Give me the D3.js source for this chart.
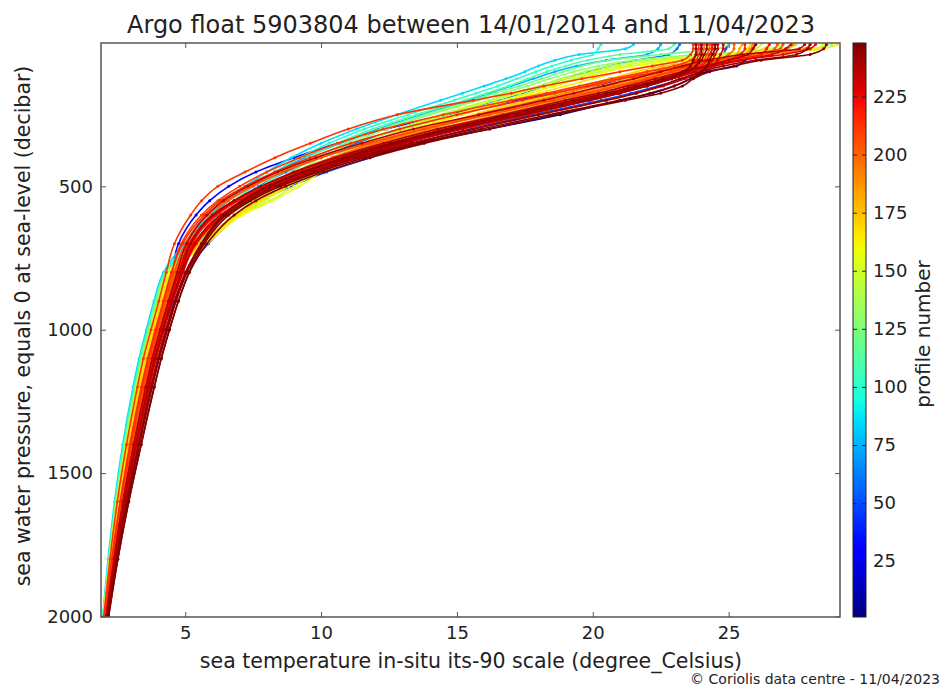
<!DOCTYPE html>
<html>
<head>
<meta charset="utf-8">
<script src="https://cdn.jsdelivr.net/npm/d3@7"></script>
<style>
  body { margin: 0; background: #fff; }
  svg { display: block; font-family: "DejaVu Sans", sans-serif; }
</style>
</head>
<body>
<svg id="chart" width="942" height="688"></svg>
<script>
// pressure levels sampled by the float (decibar)
const pressure = [5, 20, 40, 60, 80, 100, 125, 150, 175, 200, 250, 300, 350, 400, 450,
  500, 550, 600, 700, 800, 900, 1000, 1100, 1200, 1400, 1600, 1800, 2000]

// temperatures, one array per drawn profile (degree Celsius)
const t005 = [26.0, 25.9, 25.8, 25.6, 25.3, 24.2, 23.6, 23.0, 22.2, 21.0, 18.8, 16.2, 13.6, 11.4, 9.6, 8.3, 7.3, 6.5, 5.5, 4.77, 4.39, 4.08, 3.79, 3.55, 3.11, 2.71, 2.38, 2.09]
const t015 = [24.4, 24.4, 24.3, 24.2, 24.0, 23.6, 22.8, 21.8, 20.8, 19.6, 17.2, 14.9, 12.9, 11.0, 9.3, 7.9, 6.8, 6.0, 5.1, 4.63, 4.26, 3.95, 3.67, 3.43, 3.01, 2.63, 2.32, 2.06]
const t030 = [24.0, 24.0, 23.9, 23.8, 23.5, 22.6, 21.4, 20.0, 18.6, 17.2, 14.6, 12.4, 10.6, 9.0, 7.6, 6.6, 5.9, 5.4, 4.75, 4.49, 4.12, 3.83, 3.55, 3.31, 2.9, 2.56, 2.27, 2.03]
const t050 = [25.0, 24.9, 24.8, 24.6, 24.4, 24.0, 23.3, 22.4, 21.4, 20.3, 17.8, 15.5, 13.4, 11.8, 10.2, 8.9, 7.8, 7.0, 5.85, 5.05, 4.6, 4.17, 3.87, 3.63, 3.18, 2.76, 2.41, 2.11]
const t062 = [23.2, 23.1, 22.8, 21.6, 20.6, 19.8, 19.0, 18.2, 17.4, 16.5, 14.6, 12.9, 11.3, 9.9, 8.7, 7.7, 6.8, 6.1, 5.2, 4.39, 4.03, 3.74, 3.46, 3.24, 2.84, 2.5, 2.23, 2.0]
const t075 = [22.5, 22.4, 22.0, 20.5, 19.4, 18.6, 17.8, 17.0, 16.2, 15.4, 13.7, 12.1, 10.7, 9.4, 8.3, 7.4, 6.6, 6.0, 5.05, 4.3, 3.94, 3.66, 3.38, 3.16, 2.77, 2.45, 2.2, 1.98]
const t085 = [21.5, 21.2, 19.5, 18.6, 18.0, 17.5, 16.8, 16.0, 15.2, 14.4, 12.8, 11.3, 10.0, 8.9, 8.0, 7.2, 6.5, 5.9, 4.95, 4.2, 3.85, 3.57, 3.3, 3.08, 2.7, 2.4, 2.16, 1.96]
const t100 = [20.3, 20.2, 20.0, 19.2, 18.5, 17.9, 17.2, 16.5, 15.7, 14.9, 13.2, 11.6, 10.3, 9.2, 8.3, 7.5, 6.8, 6.2, 5.1, 4.25, 3.9, 3.61, 3.34, 3.12, 2.73, 2.43, 2.18, 1.97]
const t110 = [23.0, 22.8, 21.0, 19.8, 19.0, 18.3, 17.6, 16.9, 16.1, 15.3, 13.5, 11.9, 10.6, 9.5, 8.6, 7.8, 7.1, 6.4, 5.3, 4.3, 3.94, 3.66, 3.38, 3.16, 2.77, 2.45, 2.2, 1.98]
const t120 = [25.0, 24.6, 22.5, 20.6, 19.6, 18.9, 18.1, 17.3, 16.4, 15.6, 13.8, 12.2, 10.9, 9.8, 8.9, 8.1, 7.3, 6.6, 5.45, 4.34, 3.99, 3.7, 3.42, 3.2, 2.8, 2.48, 2.21, 1.99]
const t130 = [28.8, 28.0, 24.0, 21.5, 20.2, 19.3, 18.4, 17.6, 16.7, 15.8, 14.0, 12.4, 11.1, 10.0, 9.1, 8.3, 7.5, 6.8, 5.55, 4.3, 3.94, 3.66, 3.38, 3.16, 2.77, 2.45, 2.2, 1.98]
const t140 = [27.0, 26.5, 24.5, 22.0, 20.6, 19.7, 18.8, 18.0, 17.1, 16.2, 14.4, 12.8, 11.5, 10.4, 9.5, 8.7, 7.9, 7.0, 5.7, 4.34, 3.99, 3.7, 3.42, 3.2, 2.8, 2.48, 2.21, 1.99]
const t145 = [26.2, 26.0, 25.0, 23.0, 21.4, 20.3, 19.3, 18.5, 17.6, 16.7, 14.9, 13.2, 11.8, 10.6, 9.6, 8.8, 7.9, 6.95, 5.65, 4.39, 4.03, 3.74, 3.46, 3.24, 2.84, 2.5, 2.23, 2.0]
const t150 = [27.5, 27.0, 24.8, 22.5, 21.0, 20.0, 19.0, 18.2, 17.3, 16.4, 14.6, 13.0, 11.8, 10.8, 9.9, 9.0, 8.1, 7.0, 5.8, 4.39, 4.03, 3.74, 3.46, 3.24, 2.84, 2.5, 2.23, 2.0]
const t158 = [28.5, 28.2, 25.5, 23.0, 21.5, 20.5, 19.5, 18.6, 17.7, 16.8, 15.0, 13.4, 12.1, 11.0, 10.0, 9.2, 8.2, 7.1, 5.8, 4.44, 4.08, 3.78, 3.5, 3.28, 2.87, 2.53, 2.25, 2.02]
const t165 = [29.0, 28.5, 26.0, 23.5, 22.0, 21.0, 20.0, 19.0, 18.0, 17.0, 15.2, 13.5, 12.2, 11.0, 9.8, 8.8, 7.8, 7.0, 5.75, 4.49, 4.12, 3.83, 3.55, 3.31, 2.9, 2.56, 2.27, 2.03]
const t168 = [25.8, 25.7, 25.4, 24.3, 23.0, 21.9, 20.8, 19.8, 18.8, 17.8, 15.8, 14.0, 12.4, 11.0, 9.8, 8.7, 7.7, 6.9, 5.65, 4.49, 4.12, 3.83, 3.55, 3.31, 2.9, 2.56, 2.27, 2.03]
const t172 = [26.5, 26.3, 25.6, 24.0, 22.6, 21.6, 20.6, 19.6, 18.6, 17.6, 15.6, 13.8, 12.3, 10.9, 9.7, 8.6, 7.6, 6.8, 5.6, 4.53, 4.17, 3.87, 3.59, 3.35, 2.94, 2.58, 2.29, 2.04]
const t180 = [25.5, 25.4, 25.3, 24.8, 23.8, 22.8, 21.8, 20.8, 19.8, 18.8, 16.5, 14.3, 12.4, 10.8, 9.5, 8.4, 7.4, 6.6, 5.5, 4.58, 4.21, 3.91, 3.63, 3.39, 2.97, 2.61, 2.3, 2.05]
const t183 = [27.4, 27.2, 26.0, 24.4, 23.2, 22.3, 21.3, 20.3, 19.3, 18.3, 16.1, 14.0, 12.2, 10.6, 9.3, 8.2, 7.2, 6.45, 5.4, 4.58, 4.21, 3.91, 3.63, 3.39, 2.97, 2.61, 2.3, 2.05]
const t187 = [24.5, 24.5, 24.4, 24.2, 23.5, 22.6, 21.6, 20.5, 19.4, 18.3, 16.0, 13.9, 12.0, 10.4, 9.1, 8.0, 7.1, 6.4, 5.4, 4.63, 4.26, 3.95, 3.67, 3.43, 3.01, 2.63, 2.32, 2.06]
const t191 = [25.9, 25.8, 25.6, 24.9, 23.9, 23.0, 22.0, 21.0, 20.0, 19.0, 16.8, 14.6, 12.6, 10.9, 9.4, 8.2, 7.2, 6.4, 5.35, 4.68, 4.3, 4.0, 3.71, 3.47, 3.04, 2.66, 2.34, 2.07]
const t195 = [28.0, 27.8, 26.5, 24.5, 23.0, 22.0, 21.0, 20.0, 19.0, 18.0, 15.8, 13.8, 12.0, 10.4, 9.1, 8.0, 7.1, 6.3, 5.3, 4.63, 4.26, 3.95, 3.67, 3.43, 3.01, 2.63, 2.32, 2.06]
const t198 = [24.1, 24.1, 24.0, 23.9, 23.6, 22.9, 21.9, 20.8, 19.6, 18.4, 16.0, 13.7, 11.7, 10.0, 8.6, 7.5, 6.6, 5.95, 5.1, 4.58, 4.21, 3.91, 3.63, 3.39, 2.97, 2.61, 2.3, 2.05]
const t200 = [25.2, 25.2, 25.0, 24.6, 23.6, 22.8, 21.9, 20.9, 19.9, 18.9, 16.6, 14.2, 12.2, 10.4, 9.0, 7.9, 6.9, 6.1, 5.2, 4.68, 4.3, 4.0, 3.71, 3.47, 3.04, 2.66, 2.34, 2.07]
const t203 = [26.8, 26.7, 26.4, 25.3, 24.2, 23.4, 22.5, 21.5, 20.5, 19.4, 17.0, 14.7, 12.6, 10.8, 9.3, 8.1, 7.1, 6.3, 5.3, 4.72, 4.35, 4.04, 3.75, 3.51, 3.07, 2.69, 2.36, 2.08]
const t205 = [24.3, 24.3, 24.2, 24.1, 23.9, 23.2, 22.2, 21.0, 19.8, 18.6, 16.2, 13.8, 11.8, 10.0, 8.6, 7.4, 6.5, 5.8, 5.0, 4.6, 4.28, 4.0, 3.71, 3.47, 3.04, 2.66, 2.34, 2.07]
const t208 = [27.0, 26.9, 25.8, 24.6, 23.6, 22.9, 22.0, 21.2, 20.3, 19.3, 17.0, 14.6, 12.6, 10.8, 9.3, 8.0, 6.9, 6.1, 5.2, 4.77, 4.39, 4.08, 3.79, 3.55, 3.11, 2.71, 2.38, 2.09]
const t210 = [23.9, 23.9, 23.8, 23.6, 23.0, 22.0, 20.7, 19.5, 18.3, 17.0, 14.5, 12.3, 10.6, 9.2, 8.0, 7.0, 6.2, 5.6, 4.85, 4.5, 4.2, 3.95, 3.67, 3.43, 3.01, 2.63, 2.32, 2.06]
const t212 = [23.7, 23.7, 23.6, 23.3, 22.2, 21.0, 19.6, 18.2, 17.0, 15.6, 12.8, 11.0, 9.6, 8.3, 7.2, 6.2, 5.6, 5.2, 4.6, 4.3, 4.03, 3.74, 3.46, 3.24, 2.84, 2.5, 2.23, 2.0]
const t215 = [24.0, 24.0, 23.9, 23.8, 23.4, 22.4, 21.0, 19.8, 18.6, 17.4, 15.0, 12.9, 11.1, 9.6, 8.3, 7.2, 6.3, 5.7, 4.9, 4.5, 4.21, 3.91, 3.63, 3.39, 2.97, 2.61, 2.3, 2.05]
const t218 = [25.6, 25.6, 25.4, 25.0, 24.3, 23.5, 22.6, 21.6, 20.6, 19.5, 17.1, 14.8, 12.7, 10.9, 9.3, 8.0, 6.95, 6.15, 5.2, 4.82, 4.44, 4.12, 3.83, 3.59, 3.14, 2.74, 2.39, 2.1]
const t220 = [26.5, 26.4, 26.2, 25.0, 24.0, 23.4, 22.6, 21.6, 20.6, 19.6, 17.3, 15.0, 12.9, 11.0, 9.5, 8.2, 7.1, 6.3, 5.3, 4.82, 4.44, 4.12, 3.83, 3.59, 3.14, 2.74, 2.39, 2.1]
const t222 = [24.4, 24.4, 24.3, 24.2, 24.0, 23.6, 22.9, 22.0, 20.9, 19.8, 17.3, 14.9, 12.8, 10.9, 9.3, 8.0, 6.9, 6.1, 5.25, 4.87, 4.48, 4.17, 3.87, 3.63, 3.18, 2.76, 2.41, 2.11]
const t225 = [28.2, 28.0, 27.0, 25.4, 24.3, 23.6, 22.8, 22.0, 21.0, 19.9, 17.6, 15.2, 13.0, 11.2, 9.6, 8.3, 7.2, 6.4, 5.4, 4.91, 4.53, 4.21, 3.92, 3.67, 3.21, 2.79, 2.43, 2.13]
const t228 = [24.8, 24.8, 24.7, 24.6, 24.4, 24.0, 23.4, 22.6, 21.6, 20.5, 18.0, 15.6, 13.4, 11.4, 9.8, 8.4, 7.2, 6.3, 5.35, 4.91, 4.53, 4.21, 3.92, 3.67, 3.21, 2.79, 2.43, 2.13]
const t230 = [27.3, 27.1, 26.6, 25.5, 24.5, 23.8, 22.9, 21.9, 20.8, 19.6, 17.1, 14.6, 12.5, 10.6, 9.1, 7.8, 6.8, 6.05, 5.15, 4.77, 4.39, 4.08, 3.79, 3.55, 3.11, 2.71, 2.38, 2.09]
const t232 = [24.6, 24.6, 24.5, 24.4, 24.2, 23.7, 22.9, 21.9, 20.9, 19.8, 17.5, 15.2, 13.1, 11.2, 9.6, 8.3, 7.2, 6.35, 5.35, 4.91, 4.53, 4.21, 3.92, 3.67, 3.21, 2.79, 2.43, 2.13]
const t235 = [27.8, 27.6, 25.5, 24.2, 23.3, 22.5, 21.5, 20.4, 19.3, 18.2, 15.8, 13.4, 11.5, 9.8, 8.4, 7.3, 6.4, 5.8, 5.05, 4.7, 4.39, 4.08, 3.79, 3.55, 3.11, 2.71, 2.38, 2.09]
const t238 = [26.0, 25.9, 25.7, 25.0, 24.2, 23.3, 22.3, 21.3, 20.2, 19.0, 16.7, 14.3, 12.3, 10.5, 9.0, 7.8, 6.8, 6.0, 5.2, 4.85, 4.48, 4.17, 3.87, 3.63, 3.18, 2.76, 2.41, 2.11]
const t240 = [24.0, 24.0, 24.0, 23.9, 23.8, 23.5, 22.9, 22.0, 21.0, 19.9, 17.4, 15.0, 12.9, 11.0, 9.4, 8.1, 7.1, 6.4, 5.6, 5.01, 4.62, 4.29, 4.0, 3.74, 3.28, 2.84, 2.47, 2.15]
const t242 = [24.2, 24.2, 24.1, 24.0, 23.8, 23.4, 22.8, 21.8, 20.8, 19.6, 17.2, 14.8, 12.8, 11.0, 9.4, 8.1, 7.1, 6.4, 5.6, 5.01, 4.62, 4.29, 4.0, 3.74, 3.28, 2.84, 2.47, 2.15]
const t244 = [28.0, 27.9, 27.5, 26.0, 24.8, 24.0, 23.2, 22.5, 21.6, 20.5, 18.0, 15.6, 13.3, 11.3, 9.7, 8.3, 7.3, 6.5, 5.65, 5.06, 4.66, 4.34, 4.04, 3.78, 3.31, 2.87, 2.48, 2.16]
const t245 = [23.8, 23.8, 23.8, 23.7, 23.6, 23.3, 22.6, 21.6, 20.5, 19.3, 16.9, 14.6, 12.6, 10.8, 9.3, 8.0, 7.1, 6.4, 5.6, 5.06, 4.66, 4.34, 4.04, 3.78, 3.31, 2.87, 2.48, 2.16]
const t247 = [28.6, 28.5, 28.0, 26.2, 25.2, 24.3, 23.7, 23.3, 22.5, 21.2, 18.6, 16.2, 13.8, 11.8, 10.1, 8.7, 7.6, 6.8, 5.8, 5.15, 4.75, 4.42, 4.12, 3.86, 3.38, 2.92, 2.52, 2.18]
const t248 = [24.5, 24.5, 24.4, 24.3, 24.2, 24.0, 23.6, 23.0, 22.1, 21.0, 18.4, 15.9, 13.6, 11.6, 9.9, 8.5, 7.4, 6.6, 5.7, 5.15, 4.75, 4.42, 4.12, 3.86, 3.38, 2.92, 2.52, 2.18]

// profile numbers (colour) matching the arrays above, drawn in this order
const profileNumbers = [5, 15, 30, 50, 62, 75, 85, 100, 110, 120, 130, 140, 145, 150, 158,
  165, 168, 172, 180, 183, 187, 191, 195, 198, 200, 203, 205, 208, 210, 212, 215, 218, 220,
  222, 225, 228, 230, 232, 235, 238, 240, 242, 244, 245, 247, 248]
const profileTemps = [t005, t015, t030, t050, t062, t075, t085, t100, t110, t120, t130, t140,
  t145, t150, t158, t165, t168, t172, t180, t183, t187, t191, t195, t198, t200, t203, t205,
  t208, t210, t212, t215, t218, t220, t222, t225, t228, t230, t232, t235, t238, t240, t242,
  t244, t245, t247, t248]

const xTicks = [5, 10, 15, 20, 25]
const yTicks = [500, 1000, 1500, 2000]
const cbTicks = [25, 50, 75, 100, 125, 150, 175, 200, 225]

const titleText = 'Argo float 5903804 between 14/01/2014 and 11/04/2023'

const svg = d3.select('#chart')
const pLeft = 101, pRight = 840, pTop = 43, pBottom = 617

const x = d3.scaleLinear().domain([1.9, 29.1]).range([pLeft, pRight])
const y = d3.scaleLinear().domain([0, 2002]).range([pTop, pBottom])

// matplotlib "jet" colour map
const jr = d3.scaleLinear().domain([0, 0.35, 0.66, 0.89, 1]).range([0, 0, 1, 1, 0.5]).clamp(true)
const jg = d3.scaleLinear().domain([0, 0.125, 0.375, 0.64, 0.91, 1]).range([0, 0, 1, 1, 0, 0]).clamp(true)
const jb = d3.scaleLinear().domain([0, 0.11, 0.34, 0.65, 1]).range([0.5, 1, 1, 0, 0]).clamp(true)
const jet = (t) => d3.rgb(jr(t) * 255, jg(t) * 255, jb(t) * 255).toString()
const cnorm = d3.scaleLinear().domain([1, 248]).range([0, 1])
const color = (n) => jet(cnorm(n))

// profiles
svg.append('clipPath').attr('id', 'plotclip')
  .append('rect').attr('x', pLeft).attr('y', pTop).attr('width', pRight - pLeft).attr('height', pBottom - pTop)

const plot = svg.append('g').attr('clip-path', 'url(#plotclip)')
const line = d3.line().x((d) => x(d[1])).y((d) => y(d[0])).curve(d3.curveMonotoneY)

const profiles = profileNumbers.map((n, i) => ({
  n: n,
  pts: pressure.map((p, j) => [p, profileTemps[i][j]])
}))

const prof = plot.selectAll('g.profile').data(profiles).enter().append('g').attr('class', 'profile')
prof.append('path')
  .attr('d', (d) => line(d.pts))
  .attr('fill', 'none')
  .attr('stroke', (d) => color(d.n))
  .attr('stroke-width', 1.6)
prof.selectAll('circle').data((d) => d.pts.map((p) => ({ p: p, n: d.n }))).enter().append('circle')
  .attr('cx', (d) => x(d.p[1]))
  .attr('cy', (d) => y(d.p[0]))
  .attr('r', 1.5)
  .attr('fill', (d) => color(d.n))

// axes, ticks pointing inwards on all four sides
const tickColor = '#555'
function styleAxis(g) {
  g.select('.domain').remove()
  g.selectAll('.tick line').attr('stroke', tickColor)
  g.selectAll('.tick text').attr('fill', '#222').style('font-size', '18px').style('font-family', '"DejaVu Sans", sans-serif')
}
svg.append('g').attr('transform', `translate(0,${pBottom})`)
  .call(d3.axisBottom(x).tickValues(xTicks).tickSize(-5).tickPadding(9).tickFormat(d3.format('d')))
  .call(styleAxis)
svg.append('g').attr('transform', `translate(0,${pTop})`)
  .call(d3.axisTop(x).tickValues(xTicks).tickSize(-5).tickFormat(''))
  .call(styleAxis)
svg.append('g').attr('transform', `translate(${pLeft},0)`)
  .call(d3.axisLeft(y).tickValues(yTicks).tickSize(-5).tickPadding(8).tickFormat(d3.format('d')))
  .call(styleAxis)
svg.append('g').attr('transform', `translate(${pRight},0)`)
  .call(d3.axisRight(y).tickValues(yTicks).tickSize(-5).tickFormat(''))
  .call(styleAxis)

svg.append('rect')
  .attr('x', pLeft).attr('y', pTop).attr('width', pRight - pLeft).attr('height', pBottom - pTop)
  .attr('fill', 'none').attr('stroke', '#555').attr('stroke-width', 1.5)

// colour bar
const cbX = 853, cbW = 13
const cy = d3.scaleLinear().domain([1, 248]).range([pBottom, pTop])
const grad = svg.append('defs').append('linearGradient').attr('id', 'jetgrad')
  .attr('x1', 0).attr('y1', 1).attr('x2', 0).attr('y2', 0)
grad.selectAll('stop').data(d3.range(0, 1.0001, 0.02)).enter().append('stop')
  .attr('offset', (d) => d)
  .attr('stop-color', (d) => jet(d))
svg.append('rect')
  .attr('x', cbX).attr('y', pTop).attr('width', cbW).attr('height', pBottom - pTop)
  .attr('fill', 'url(#jetgrad)').attr('stroke', '#222').attr('stroke-width', 1)

svg.append('g').attr('transform', `translate(${cbX + cbW},0)`)
  .call(d3.axisRight(cy).tickValues(cbTicks).tickSize(-4).tickPadding(7))
  .call(styleAxis)
  .selectAll('.tick line').attr('stroke', '#222')
svg.append('g').attr('transform', `translate(${cbX},0)`)
  .call(d3.axisLeft(cy).tickValues(cbTicks).tickSize(-4).tickFormat(''))
  .call(styleAxis)
  .selectAll('.tick line').attr('stroke', '#222')

// titles
svg.append('text')
  .attr('x', 471).attr('y', 33)
  .attr('text-anchor', 'middle')
  .style('font-size', '24px').attr('fill', '#222')
  .text(titleText)
svg.append('text')
  .attr('x', 471).attr('y', 668)
  .attr('text-anchor', 'middle')
  .style('font-size', '20.5px').attr('fill', '#222')
  .text('sea temperature in-situ its-90 scale (degree_Celsius)')
svg.append('text')
  .attr('transform', 'translate(30,326) rotate(-90)')
  .attr('text-anchor', 'middle')
  .style('font-size', '20.5px').attr('fill', '#222')
  .text('sea water pressure, equals 0 at sea-level (decibar)')
svg.append('text')
  .attr('transform', 'translate(930,334) rotate(-90)')
  .attr('text-anchor', 'middle')
  .style('font-size', '20px').attr('fill', '#222')
  .text('profile number')
svg.append('text')
  .attr('x', 940).attr('y', 684)
  .attr('text-anchor', 'end')
  .style('font-size', '14px').attr('fill', '#222')
  .text('© Coriolis data centre - 11/04/2023')
</script>
</body>
</html>
